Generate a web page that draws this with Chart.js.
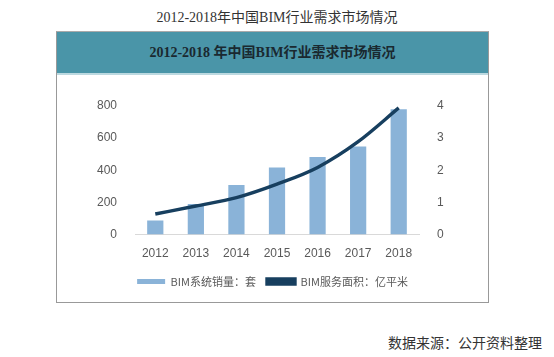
<!DOCTYPE html>
<html><head><meta charset="utf-8">
<script src="https://cdn.jsdelivr.net/npm/chart.js@4.4.1/dist/chart.umd.min.js"></script>
<style>
html,body{margin:0;padding:0;background:#fff;width:554px;height:357px;overflow:hidden;}
#title{position:absolute;left:0;width:554px;top:6px;text-align:center;font:14px "Liberation Serif","Noto Sans CJK SC",serif;color:#333;}
#box{position:absolute;left:56px;top:31px;width:431px;height:270px;border:1px solid #999;border-top-color:#aaa;}
#hdr{position:absolute;left:0;top:0;width:431px;height:41px;background:#4a95a8;border-bottom:2px solid #bcd9e0;text-align:center;line-height:42px;font:bold 14px "Liberation Serif","Noto Sans CJK SC",serif;color:#1a2930;}
#hdr span{line-height:42px;}
#cw{position:absolute;left:0;top:43px;width:431px;height:227px;}
#src{position:absolute;right:12px;top:332px;font:14px "Noto Sans CJK SC",sans-serif;color:#333;}
</style></head><body>
<div id="title">2012-2018年中国BIM行业需求市场情况</div>
<div id="box"><div id="hdr"><span>2012-2018 年中国BIM行业需求市场情况</span></div>
<div id="cw"><canvas id="c" width="431" height="227"></canvas></div></div>
<div id="src">数据来源：公开资料整理</div>
<script>
const categories = ["2012","2013","2014","2015","2016","2017","2018"];
const salesSets = [88, 190, 308, 418, 482, 548, 780];
const serviceArea = [0.64, 0.89, 1.15, 1.57, 2.09, 2.89, 3.94];
const leftTicks = [0, 200, 400, 600, 800];
const rightTicks = [0, 1, 2, 3, 4];
const seriesNames = ["BIM系统销量：套", "BIM服务面积：亿平米"];

const tickFont = {family: "Liberation Sans, sans-serif", size: 12};
new Chart(document.getElementById('c'), {
  data: {
    labels: categories,
    datasets: [
      {type:'line', label: seriesNames[1], data: serviceArea, yAxisID:'y1',
       borderColor:'#173f5f', backgroundColor:'#173f5f', borderWidth:3.4,
       pointRadius:0, cubicInterpolationMode:'monotone', tension:0.4, order:0},
      {type:'bar', label: seriesNames[0], data: salesSets, yAxisID:'y',
       backgroundColor:'#8ab3d8', categoryPercentage:0.4, barPercentage:1, order:1}
    ]
  },
  options: {
    responsive:false, animation:false,
    layout:{padding:{top:31,left:0,right:0,bottom:5}},
    plugins:{
      tooltip:{enabled:false},
      legend:{position:'bottom', reverse:true,
        labels:{boxWidth:28, boxHeight:5, padding:11, color:'#595959',
          font:{family:"Noto Sans CJK SC, sans-serif", size:11}}}
    },
    scales:{
      x:{grid:{display:false}, border:{display:true,color:'#d9d9d9',width:1},
         ticks:{color:'#595959', font:tickFont, padding:4}},
      y:{position:'left', min:0, max:800, grid:{display:false}, border:{display:false},
         afterBuildTicks:(s)=>{s.ticks = leftTicks.map(v=>({value:v}));},
         afterFit:(s)=>{s.width=78;},
         ticks:{color:'#595959', font:tickFont, padding:10}},
      y1:{position:'right', min:0, max:4, grid:{display:false}, border:{display:false},
         afterBuildTicks:(s)=>{s.ticks = rightTicks.map(v=>({value:v}));},
         afterFit:(s)=>{s.width=69;},
         ticks:{color:'#595959', font:tickFont, padding:10}}
    }
  }
});
</script></body></html>
